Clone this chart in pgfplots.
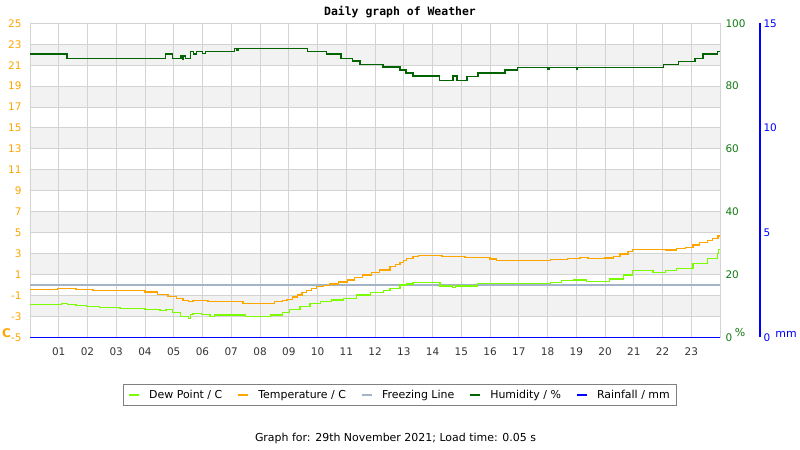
\documentclass[border=0pt]{standalone}
\usepackage{fontspec}
\setmainfont{DejaVu Sans}
\newfontfamily\titlefont{DejaVu Sans Mono}
\usepackage{pgfplots}
\pgfplotsset{compat=1.18}
\definecolor{bandgray}{HTML}{F2F2F2}
\definecolor{gridgray}{HTML}{D3D3D3}
\definecolor{tempor}{HTML}{FFA500}
\definecolor{dewgreen}{HTML}{7CFC00}
\definecolor{freeze}{HTML}{A3B4C8}
\definecolor{humgreen}{HTML}{006400}
\definecolor{humlabel}{HTML}{107A10}
\definecolor{rainblue}{HTML}{0000FF}
\definecolor{xlab}{HTML}{333333}
\definecolor{leggray}{HTML}{808080}

\pgfplotstableread{
x y
0.00 -0.42
0.97 -0.32
1.60 -0.42
2.19 -0.50
3.48 -0.55
4.00 -0.67
4.45 -0.93
4.80 -1.06
5.11 -1.27
5.32 -1.50
5.50 -1.60
5.67 -1.50
6.19 -1.60
7.41 -1.75
8.50 -1.60
8.77 -1.45
8.94 -1.37
9.12 -1.15
9.29 -0.96
9.46 -0.75
9.63 -0.55
9.80 -0.35
9.98 -0.17
10.20 -0.02
10.43 0.09
10.73 0.28
11.03 0.47
11.30 0.72
11.58 0.95
11.88 1.20
12.17 1.43
12.52 1.74
12.70 1.95
12.87 2.13
13.00 2.35
13.11 2.55
13.32 2.70
13.50 2.78
13.74 2.83
14.33 2.70
15.13 2.60
16.00 2.48
16.24 2.30
18.09 2.40
18.68 2.52
19.13 2.62
19.41 2.55
20.00 2.58
20.28 2.70
20.52 2.96
20.80 3.24
20.97 3.40
22.10 3.34
22.50 3.45
22.80 3.62
23.06 3.82
23.30 4.02
23.55 4.23
23.75 4.45
23.93 4.68
24.00 4.68
}\temptable

\pgfplotstableread{
x y
0.00 -1.85
1.11 -1.75
1.29 -1.90
1.60 -2.00
1.98 -2.08
2.43 -2.13
3.13 -2.23
4.00 -2.33
4.52 -2.46
4.73 -2.33
4.97 -2.65
5.22 -2.97
5.50 -3.18
5.58 -2.85
5.67 -2.71
5.98 -2.78
6.26 -2.97
6.43 -2.87
7.48 -3.03
8.35 -2.87
8.77 -2.65
9.04 -2.33
9.39 -2.08
9.74 -1.75
10.09 -1.60
10.50 -1.44
10.89 -1.27
11.37 -0.96
11.83 -0.74
12.28 -0.55
12.52 -0.32
12.87 0.00
13.11 0.09
13.32 0.21
13.74 0.25
14.26 -0.10
14.70 -0.20
14.80 -0.10
15.55 0.16
17.84 0.16
18.09 0.25
18.50 0.41
18.89 0.47
19.37 0.31
20.00 0.31
20.17 0.57
20.63 0.95
20.97 1.36
21.67 1.21
22.10 1.36
22.50 1.59
23.06 2.07
23.55 2.55
23.90 3.02
23.95 3.40
24.00 3.40
}\dewtable

\pgfplotstableread{
x y
0.00 90.2
1.29 88.9
4.71 90.2
4.95 88.9
5.25 89.6
5.30 88.6
5.35 89.6
5.40 88.9
5.57 91.0
5.70 90.2
5.80 91.0
6.00 90.4
6.10 91.0
7.10 92.1
7.20 91.3
7.25 92.1
9.64 91.1
10.30 90.2
10.82 88.9
11.23 88.0
11.48 87.0
12.28 86.1
12.87 85.1
13.08 84.2
13.32 83.2
14.23 81.8
14.71 83.2
14.85 81.8
15.20 83.0
15.58 84.2
16.52 85.1
16.97 86.0
18.00 85.4
18.05 86.0
19.00 85.4
19.05 86.0
20.00 85.9
22.03 86.9
22.56 87.9
23.13 88.9
23.41 90.2
23.90 91.1
24.00 91.1
}\humtable

\pgfplotstableread{
x y
0 0
4 0
8 0
12 0
16 0
20 0
24 0
}\raintable

\begin{document}
\begin{tikzpicture}
\useasboundingbox (0,0) rectangle (800bp,450bp);
\pgfplotsset{base/.style={scale only axis, width=690bp, height=314bp,
  at={(30bp,112.7bp)}, anchor=south west, xmin=0, xmax=24}}
% bands
\begin{axis}[base, hide axis, ymin=-5, ymax=25]
\fill[bandgray] (axis cs:0,21) rectangle (axis cs:24,23);
\fill[bandgray] (axis cs:0,17) rectangle (axis cs:24,19);
\fill[bandgray] (axis cs:0,13) rectangle (axis cs:24,15);
\fill[bandgray] (axis cs:0,9) rectangle (axis cs:24,11);
\fill[bandgray] (axis cs:0,5) rectangle (axis cs:24,7);
\fill[bandgray] (axis cs:0,1) rectangle (axis cs:24,3);
\fill[bandgray] (axis cs:0,-3) rectangle (axis cs:24,-1);
\end{axis}
% main temperature axis
\begin{axis}[base, name=main, ymin=-5, ymax=25,
  axis line style={gridgray, line width=1bp},
  grid=major, major grid style={gridgray, line width=1bp},
  major tick length=0pt,
  xtick={1,...,23},
  xticklabels={01,02,03,04,05,06,07,08,09,10,11,12,13,14,15,16,17,18,19,20,21,22,23},
  ytick={-5,-3,...,25},
  yticklabels={-5,-3,-1,1,3,5,7,9,11,13,15,17,19,21,23,25},
  xticklabel style={font=\fontsize{10.5}{12}\selectfont, text=xlab, yshift=-7bp},
  yticklabel style={font=\fontsize{10.5}{12}\selectfont, text=tempor, xshift=-5bp},
  legend columns=5,
  legend image code/.code={\draw[#1, line width=2bp] (0bp,0bp) -- (10bp,0bp);},
  legend style={at={(0.5362,-0.1838)}, anchor=center, draw=leggray, line width=1bp,
    font=\fontsize{11}{13}\selectfont, inner xsep=5bp, inner ysep=4bp,
    cells={anchor=west},
    /tikz/every odd column/.append style={column sep=7bp},
    /tikz/every even column/.append style={column sep=13bp}},
]
\addplot[const plot, freeze, line width=1.1bp, forget plot] coordinates {(0,0) (24,0)};
\addplot[const plot, dewgreen, line width=1.1bp] table[x=x,y=y] {\dewtable};
\addlegendentry{Dew Point / C}
\addplot[const plot, tempor, line width=1.1bp] table[x=x,y=y] {\temptable};
\addlegendentry{Temperature / C}
\addlegendimage{freeze}
\addlegendentry{Freezing Line}
\addlegendimage{humgreen}
\addlegendentry{Humidity / \%}
\addlegendimage{rainblue}
\addlegendentry{Rainfall / mm}
\end{axis}
% humidity axis
\begin{axis}[base, ymin=0, ymax=100,
  axis x line=none, axis y line*=right,
  y axis line style={draw=none},
  major tick length=0pt,
  ytick={0,20,40,60,80,100},
  yticklabels={0,20,40,60,80,100},
  yticklabel style={font=\fontsize{10.5}{12}\selectfont, text=humlabel, xshift=2bp},
]
\addplot[const plot, humgreen, line width=1.2bp] table[x=x,y=y] {\humtable};
\end{axis}
% rainfall axis
\begin{axis}[scale only axis, width=730bp, height=314bp,
  at={(30bp,112.7bp)}, anchor=south west, xmin=0, xmax=25.3913,
  ymin=0, ymax=15, clip=false,
  axis x line=none, axis y line*=right,
  y axis line style={rainblue, line width=1.5bp},
  major tick length=0pt,
  ytick={0,5,10,15},
  yticklabels={0,5,10,15},
  yticklabel style={font=\fontsize{10.5}{12}\selectfont, text=rainblue, xshift=0bp},
]
\addplot[rainblue, line width=1.5bp] table[x=x,y=y] {\raintable};
\end{axis}
\node[font=\titlefont\bfseries\fontsize{11.5}{13}\selectfont] at (400bp,438bp) {Daily graph of Weather};
\node[font=\fontsize{11}{13}\selectfont] at (395.5bp,12bp) {Graph for: 29th November 2021; Load time: 0.05 s};
\node[font=\bfseries\fontsize{12}{13}\selectfont, text=tempor] at (6.5bp,117bp) {C};
\node[font=\fontsize{11}{13}\selectfont, text=humlabel] at (740bp,117bp) {\%};
\node[font=\fontsize{11}{13}\selectfont, text=rainblue] at (786bp,116bp) {mm};
\end{tikzpicture}
\end{document}
